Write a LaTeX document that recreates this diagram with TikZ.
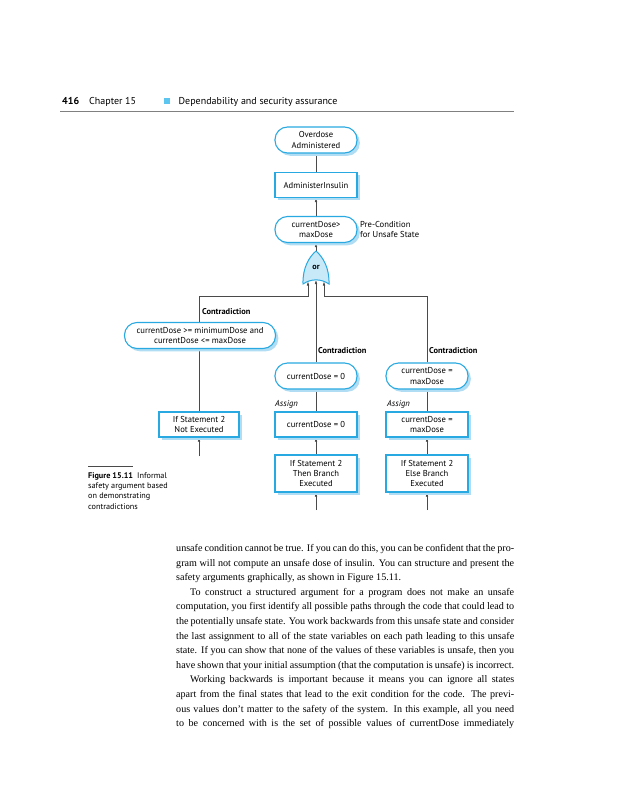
\documentclass[tikz,border=0pt]{standalone}
\usepackage{fontspec}
\setmainfont{Liberation Serif}
\newfontfamily\dfont{PT Sans}
\usetikzlibrary{shadows,arrows.meta}
\definecolor{bblue}{HTML}{29A9E1}
\definecolor{sblue}{HTML}{B0DDF3}
\definecolor{gfill}{HTML}{C8E9F8}
\definecolor{lgray}{HTML}{4A4A4A}
\definecolor{hsq}{HTML}{5CC6F0}
\pgfdeclarelayer{paper}
\pgfdeclarelayer{bg}
\pgfsetlayers{paper,bg,main}
\tikzset{
  nodebase/.style={draw=bblue, line width=1.1pt, fill=white, align=center,
    font=\dfont\fontsize{8.6}{10.2}\selectfont, inner sep=1pt,
    drop shadow={shadow xshift=2.8pt, shadow yshift=-2.8pt, fill=sblue, opacity=1}},
  pill/.style={nodebase, rounded corners=12.5pt, minimum width=82pt, minimum height=26pt},
  box/.style={nodebase, minimum width=82pt, minimum height=25pt},
  conn/.style={draw=lgray, line width=0.6pt},
  arr/.style={conn, -{Latex[length=4pt,width=2.6pt]}},
  lab/.style={font=\dfont\fontsize{8.6}{10.2}\selectfont, align=left, inner sep=0pt},
  blab/.style={lab, font=\dfont\bfseries\fontsize{8.4}{10}\selectfont, anchor=west},
  ilab/.style={lab, font=\dfont\itshape\fontsize{8.6}{10}\selectfont, anchor=west},
  body/.style={anchor=base west, inner sep=0pt, font=\fontsize{10.1}{14.6}\selectfont},
}
\newcommand{\bl}[1]{\makebox[338pt][s]{#1}}
\begin{document}
\begin{tikzpicture}[x=1pt,y=-1pt]
\useasboundingbox (0,0) rectangle (618,800);
\begin{pgfonlayer}{paper}
\fill[white] (0,0) rectangle (618,800);
\end{pgfonlayer}

% header
\node[anchor=base west, inner sep=0pt, font=\dfont\bfseries\fontsize{10}{12}\selectfont] (pg) at (62,104.5) {416};
\node[anchor=base west, inner sep=0pt, font=\dfont\fontsize{10}{12}\selectfont] (ch) at (89,104.5) {Chapter 15};
\fill[hsq] (164,97.5) rectangle (170,103.5);
\node[anchor=base west, inner sep=0pt, font=\dfont\fontsize{10}{12}\selectfont] (ht) at (178.5,104.5) {Dependability and security assurance};
\draw[gray, line width=0.7pt] (60,111) -- (514,111);

% diagram nodes
\node[pill] (od) at (316,140) {Overdose\\Administered};
\node[box] (ai) at (316,185) {AdministerInsulin};
\node[pill] (cd) at (316,229.5) {currentDose>\\maxDose};
\node[lab, anchor=west] (pre) at (360,229.5) {Pre-Condition\\for Unsafe State};

% or gate
\filldraw[draw=bblue, fill=gfill, line width=1pt]
  (303,284) .. controls (302.5,268) and (309,257) .. (316,251)
  .. controls (323,257) and (329.5,268) .. (329,284)
  .. controls (321,278.5) and (311,278.5) .. (303,284) -- cycle;
\node[lab, font=\dfont\bfseries\fontsize{8.2}{10}\selectfont] (orl) at (316,267) {or};
\coordinate (gtop) at (316,251);
\coordinate (gL) at (308,281.5);
\coordinate (gM) at (316,280);
\coordinate (gR) at (324,281.5);
\coordinate (jL) at (308,296);
\coordinate (jR) at (324,296);

% left column
\node[pill, minimum width=151pt] (lp) at (200,335.5) {currentDose >= minimumDose and\\currentDose <= maxDose};
\node[box, minimum width=80pt] (ne) at (199,424.5) {If Statement 2\\Not Executed};
\node[blab] (cl) at (202,312) {Contradiction};
\coordinate (lb) at (199,456);

% middle column
\node[pill] (mp) at (316,376) {currentDose = 0};
\node[box] (mb) at (316,424.5) {currentDose = 0};
\node[box, minimum height=37pt] (mt) at (316,473.5) {If Statement 2\\Then Branch\\Executed};
\node[blab] (cm) at (318,351) {Contradiction};
\node[ilab] (am) at (275,404) {Assign};
\coordinate (mb2) at (316,510);

% right column
\node[pill] (rp) at (427,376) {currentDose =\\maxDose};
\node[box] (rb) at (427,424.5) {currentDose =\\maxDose};
\node[box, minimum height=37pt] (rt) at (427,473.5) {If Statement 2\\Else Branch\\Executed};
\node[blab] (cr) at (429,351) {Contradiction};
\node[ilab] (ar) at (387,404) {Assign};
\coordinate (rb2) at (427,510);

% connectors
\begin{pgfonlayer}{bg}
\draw[conn] (od.south) -- (ai.north);
\draw[arr] (cd.north) -- (ai.south);
\draw[arr] (gtop) -- (cd.south);
\draw[arr] (ne.north) |- (jL) -- (gL);
\draw[arr] (mp.north) -- (gM);
\draw[arr] (rp.north) |- (jR) -- (gR);
\draw[conn] (mp.south) -- (mb.north);
\draw[conn] (rp.south) -- (rb.north);
\draw[arr] (lb) -- (ne.south);
\draw[arr] (mt.north) -- (mb.south);
\draw[arr] (rt.north) -- (rb.south);
\draw[arr] (mb2) -- (mt.south);
\draw[arr] (rb2) -- (rt.south);
\end{pgfonlayer}

% caption
\draw[lgray, line width=0.5pt] (88,466.5) -- (133,466.5);
\node[anchor=north west, inner sep=0pt, align=left, font=\dfont\fontsize{8.2}{10.4}\selectfont] (cap) at (88,472)
  {\textbf{Figure 15.11}\enspace Informal\\safety argument based\\on demonstrating\\contradictions};

% body text
\node[body] (t1) at (176,551.5) {\bl{unsafe condition cannot be true. If you can do this, you can be confident that the pro-}};
\node[body] (t2) at (176,566.1) {\bl{gram will not compute an unsafe dose of insulin. You can structure and present the}};
\node[body] (t3) at (176,580.7) {safety arguments graphically, as shown in Figure 15.11.};
\node[body] (t4) at (190,595.3) {\makebox[324pt][s]{To construct a structured argument for a program does not make an unsafe}};
\node[body] (t5) at (176,609.9) {\bl{computation, you first identify all possible paths through the code that could lead to}};
\node[body] (t6) at (176,624.5) {\bl{the potentially unsafe state. You work backwards from this unsafe state and consider}};
\node[body] (t7) at (176,639.1) {\bl{the last assignment to all of the state variables on each path leading to this unsafe}};
\node[body] (t8) at (176,653.7) {\bl{state. If you can show that none of the values of these variables is unsafe, then you}};
\node[body] (t9) at (176,668.3) {\bl{have shown that your initial assumption (that the computation is unsafe) is incorrect.}};
\node[body] (t10) at (190,682.9) {\makebox[324pt][s]{Working backwards is important because it means you can ignore all states}};
\node[body] (t11) at (176,697.5) {\bl{apart from the final states that lead to the exit condition for the code. The previ-}};
\node[body] (t12) at (176,712.1) {\bl{ous values don’t matter to the safety of the system. In this example, all you need}};
\node[body] (t13) at (176,726.7) {\bl{to be concerned with is the set of possible values of currentDose immediately}};
\end{tikzpicture}
\end{document}
